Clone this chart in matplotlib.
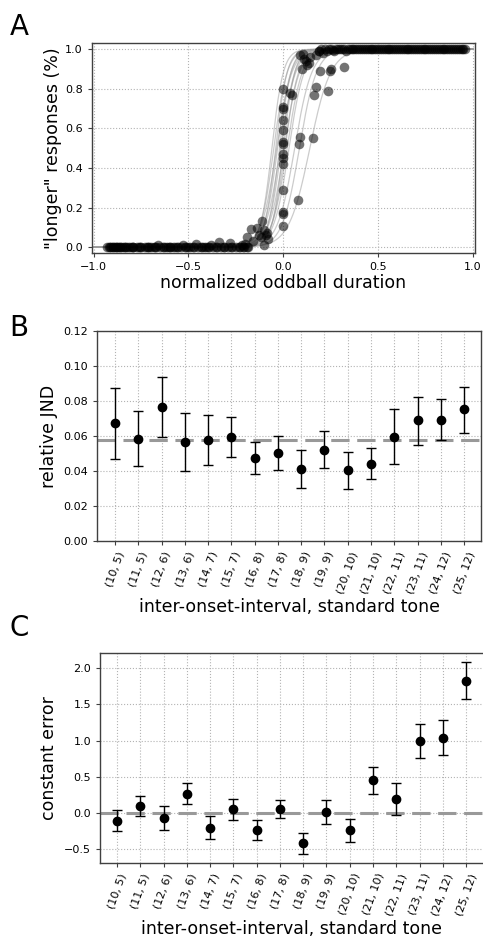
import numpy as np
import matplotlib
matplotlib.use('Agg')
import matplotlib.pyplot as plt

# --- panel A: psychometric data -------------------------------------------
zero_x = [-0.93, -0.92, -0.91, -0.90, -0.89, -0.88, -0.87, -0.86, -0.85, -0.84,
          -0.83, -0.82, -0.80, -0.79, -0.77, -0.75, -0.73, -0.72, -0.70, -0.68,
          -0.67, -0.65, -0.63, -0.61, -0.60, -0.58, -0.56, -0.54, -0.52, -0.50,
          -0.49, -0.47, -0.45, -0.43, -0.41, -0.39, -0.37, -0.35, -0.33, -0.31,
          -0.29, -0.27, -0.25, -0.23, -0.21, -0.19, -0.90, -0.86, -0.81, -0.76,
          -0.71, -0.66, -0.62, -0.57, -0.53, -0.46, -0.42, -0.38, -0.34, -0.28,
          -0.915, -0.875, -0.835, -0.795, -0.755, -0.715, -0.675, -0.635,
          -0.595, -0.555, -0.515, -0.475, -0.435, -0.395, -0.355, -0.315,
          -0.275, -0.235, -0.205, -0.185]
zero_y = [0.0] * 46 + [0.0, 0.0, 0.0, 0.0, 0.0, 0.01, 0.0, 0.0, 0.01, 0.015,
                       0.0, 0.01, 0.027, 0.02] + [0.0] * 20

one_x = [0.19, 0.21, 0.23, 0.25, 0.27, 0.29, 0.31, 0.33, 0.35, 0.37,
         0.39, 0.41, 0.43, 0.45, 0.47, 0.49, 0.51, 0.53, 0.55, 0.57,
         0.59, 0.61, 0.63, 0.65, 0.67, 0.69, 0.71, 0.73, 0.75, 0.77,
         0.79, 0.81, 0.83, 0.85, 0.87, 0.89, 0.91, 0.93, 0.95, 0.96,
         0.22, 0.26, 0.30, 0.34, 0.40, 0.46, 0.52, 0.58, 0.66, 0.74,
         0.20, 0.24, 0.28, 0.32, 0.36, 0.38, 0.42, 0.44, 0.48, 0.50,
         0.54, 0.56, 0.60, 0.62, 0.64, 0.68, 0.70, 0.72, 0.76, 0.78,
         0.80, 0.82, 0.84, 0.86, 0.88, 0.90, 0.92, 0.94]
one_y = [0.99, 0.98, 0.99, 1.0, 0.99, 1.0, 1.0, 0.99, 1.0, 1.0,
         1.0, 1.0, 1.0, 1.0, 1.0, 1.0, 1.0, 1.0, 1.0, 1.0,
         1.0, 1.0, 1.0, 1.0, 1.0, 1.0, 1.0, 1.0, 1.0, 1.0,
         1.0, 1.0, 1.0, 1.0, 1.0, 1.0, 1.0, 1.0, 1.0, 1.0,
         1.0, 0.995, 1.0, 1.0, 1.0, 1.0, 1.0, 1.0, 1.0, 1.0] + [1.0] * 28

mid_x = [-0.003, -0.003, 0.0, -0.003, 0.0, -0.003, 0.0, -0.003, 0.0, 0.0,
         0.0, 0.0, 0.0, 0.0, 0.079, 0.038, 0.045, 0.085, 0.087, 0.156,
         0.16, 0.173, 0.237, 0.196, 0.248, 0.25, 0.318, 0.10, 0.12, 0.105,
         0.09, 0.14, 0.135, 0.17, 0.19, 0.11, 0.125,
         -0.112, -0.168, -0.14, -0.10, -0.09, -0.10, -0.19, -0.13, -0.12,
         -0.085, -0.08, -0.16, -0.20, -0.22]
mid_y = [0.80, 0.71, 0.70, 0.64, 0.59, 0.53, 0.52, 0.47, 0.45, 0.42,
         0.29, 0.18, 0.17, 0.11, 0.24, 0.78, 0.77, 0.52, 0.555, 0.55,
         0.77, 0.81, 0.79, 0.89, 0.89, 0.90, 0.91, 0.90, 0.94, 0.975,
         0.97, 0.96, 0.93, 0.97, 0.99, 0.95, 0.92,
         0.135, 0.094, 0.095, 0.085, 0.06, 0.01, 0.05, 0.06, 0.05,
         0.07, 0.04, 0.03, 0.015, 0.01]

# fitted logistic curves (centre, scale) for the 16 conditions
fit_mu = [-0.06, -0.05, -0.04, -0.035, -0.03, -0.02, -0.015, -0.01,
          0.0, 0.005, 0.01, 0.02, 0.03, 0.06, 0.085, 0.14]
fit_s = [0.030, 0.035, 0.030, 0.040, 0.035, 0.030, 0.040, 0.035,
         0.030, 0.040, 0.035, 0.040, 0.040, 0.045, 0.045, 0.055]

# --- panels B and C -------------------------------------------------------
conditions = ['(10, 5)', '(11, 5)', '(12, 6)', '(13, 6)', '(14, 7)', '(15, 7)',
              '(16, 8)', '(17, 8)', '(18, 9)', '(19, 9)', '(20, 10)', '(21, 10)',
              '(22, 11)', '(23, 11)', '(24, 12)', '(25, 12)']

jnd = [0.0672, 0.0586, 0.0767, 0.0567, 0.0580, 0.0595, 0.0475, 0.0504,
       0.0414, 0.0521, 0.0404, 0.0443, 0.0597, 0.0691, 0.0693, 0.0752]
jnd_hi = [0.0872, 0.0744, 0.0937, 0.0733, 0.0723, 0.0710, 0.0567, 0.0599,
          0.0521, 0.0630, 0.0507, 0.0534, 0.0752, 0.0824, 0.0811, 0.0881]
jnd_lo = [0.0469, 0.0429, 0.0597, 0.0401, 0.0437, 0.0479, 0.0382, 0.0408,
          0.0305, 0.0416, 0.0300, 0.0353, 0.0443, 0.0551, 0.0576, 0.0620]
jnd_mean = 0.058

ce = [-0.106, 0.097, -0.074, 0.267, -0.203, 0.051, -0.239, 0.051,
      -0.419, 0.014, -0.235, 0.451, 0.193, 0.999, 1.040, 1.823]
ce_hi = [0.037, 0.230, 0.092, 0.410, -0.041, 0.189, -0.101, 0.180,
         -0.272, 0.175, -0.083, 0.635, 0.414, 1.225, 1.280, 2.086]
ce_lo = [-0.253, -0.041, -0.239, 0.124, -0.359, -0.092, -0.373, -0.074,
         -0.566, -0.147, -0.396, 0.262, -0.028, 0.764, 0.800, 1.570]

spine_col = '0.25'
grid_kw = dict(color='0.7', linestyle=':', linewidth=0.8)


def style_axes(ax):
    ax.grid(True, **grid_kw)
    ax.set_axisbelow(True)
    for sp in ax.spines.values():
        sp.set_color(spine_col)
        sp.set_linewidth(1.0)
    ax.tick_params(labelsize=8, length=3, color=spine_col)


fig = plt.figure(figsize=(4.83, 9.38), dpi=100)

# panel A
ax1 = fig.add_axes([0.190, 0.730, 0.793, 0.224])
xx = np.linspace(-1, 1, 400)
for mu, s in zip(fit_mu, fit_s):
    ax1.plot(xx, 1 / (1 + np.exp(-(xx - mu) / s)), color='0.6', alpha=0.5,
             linewidth=0.9)
dot_kw = dict(s=48, color='black', alpha=0.55, linewidths=0, zorder=3)
ax1.scatter(zero_x, zero_y, **dot_kw)
ax1.scatter(one_x, one_y, **dot_kw)
ax1.scatter(mid_x, mid_y, **dot_kw)
ax1.set_xlim(-1.01, 1.01)
ax1.set_ylim(-0.03, 1.03)
ax1.set_xticks([-1.0, -0.5, 0.0, 0.5, 1.0])
ax1.set_yticks([0.0, 0.2, 0.4, 0.6, 0.8, 1.0])
ax1.set_xlabel('normalized oddball duration', fontsize=12.5, labelpad=1)
ax1.set_ylabel('"longer" responses (%)', fontsize=12.5, labelpad=2)
style_axes(ax1)

pos = np.arange(len(conditions))

# panel B
ax2 = fig.add_axes([0.201, 0.4232, 0.795, 0.2238])
ax2.axhline(jnd_mean, color='0.6', linewidth=2.2, linestyle=(0, (6, 2.5)),
            zorder=1)
ax2.errorbar(pos, jnd,
             yerr=[np.subtract(jnd, jnd_lo), np.subtract(jnd_hi, jnd)],
             fmt='o', color='black', markersize=6, capsize=3.5,
             elinewidth=1.0, capthick=1.0, zorder=3)
ax2.set_xlim(-0.77, 15.73)
ax2.set_ylim(0, 0.12)
ax2.set_yticks([0.0, 0.02, 0.04, 0.06, 0.08, 0.10, 0.12])
ax2.set_xticks(pos)
ax2.set_xticklabels(conditions, rotation=70)
ax2.set_ylabel('relative JND', fontsize=12.5, labelpad=4)
ax2.set_xlabel('inter-onset-interval, standard tone', fontsize=12.5, labelpad=2)
style_axes(ax2)
ax2.tick_params(axis='x', labelsize=8)

# panel C
ax3 = fig.add_axes([0.207, 0.080, 0.795, 0.2238])
ax3.axhline(0.0, color='0.6', linewidth=2.2, linestyle=(0, (6, 2.5)),
            zorder=1)
ax3.errorbar(pos, ce,
             yerr=[np.subtract(ce, ce_lo), np.subtract(ce_hi, ce)],
             fmt='o', color='black', markersize=6, capsize=3.5,
             elinewidth=1.0, capthick=1.0, zorder=3)
ax3.set_xlim(-0.73, 15.77)
ax3.set_ylim(-0.69, 2.21)
ax3.set_yticks([-0.5, 0.0, 0.5, 1.0, 1.5, 2.0])
ax3.set_xticks(pos)
ax3.set_xticklabels(conditions, rotation=70)
ax3.set_ylabel('constant error', fontsize=12.5, labelpad=4)
ax3.set_xlabel('inter-onset-interval, standard tone', fontsize=12.5, labelpad=2)
style_axes(ax3)
ax3.tick_params(axis='x', labelsize=8)

# panel letters
fig.text(0.02, 0.963, 'A', fontsize=20)
fig.text(0.02, 0.642, 'B', fontsize=20)
fig.text(0.02, 0.322, 'C', fontsize=20)

fig.savefig('out.png', dpi=100)
